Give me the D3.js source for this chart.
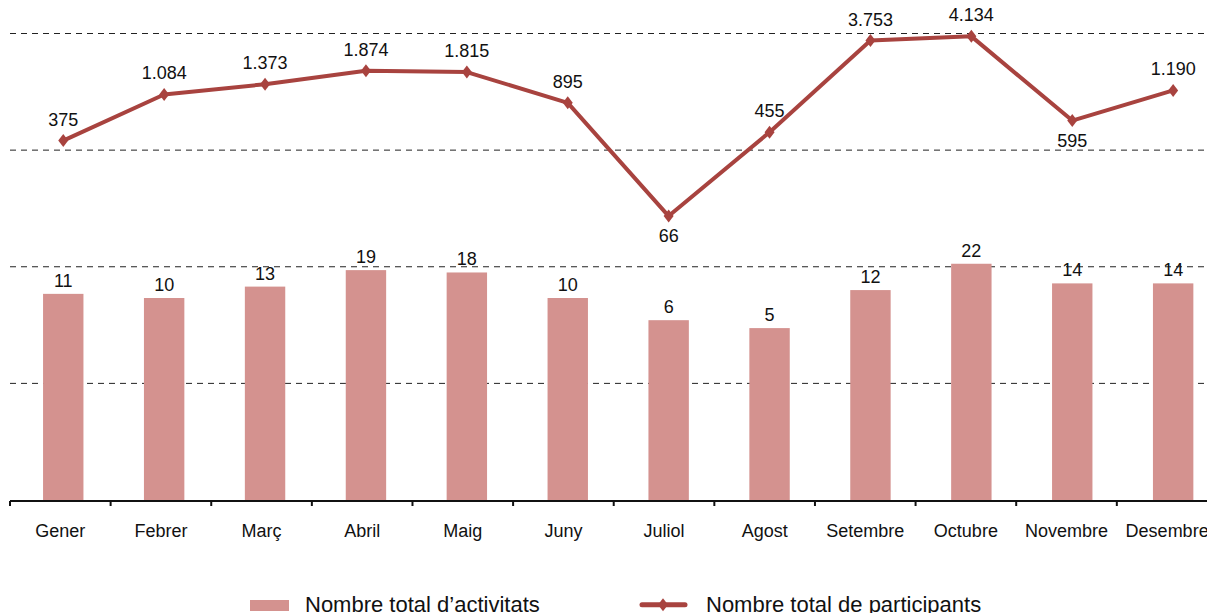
<!DOCTYPE html>
<html>
<head>
<meta charset="utf-8">
<script src="https://cdn.jsdelivr.net/npm/d3@7"></script>
<style>
  html, body { margin: 0; padding: 0; background: #fff; overflow: hidden; }
  svg { display: block; font-family: "Liberation Sans", Arial, Helvetica, sans-serif; }
</style>
</head>
<body>
<svg id="chart" width="1207" height="613"></svg>
<script>
const months = ["Gener","Febrer","Març","Abril","Maig","Juny","Juliol","Agost","Setembre","Octubre","Novembre","Desembre"];
const activitats = [11,10,13,19,18,10,6,5,12,22,14,14];
const participants = [375,1084,1373,1874,1815,895,66,455,3753,4134,595,1190];
const participantLabels = ["375","1.084","1.373","1.874","1.815","895","66","455","3.753","4.134","595","1.190"];
const labelBelow = [false,false,false,false,false,false,true,false,false,false,true,false];
const gridTicks = [0,1,2,3,4];
const legendNames = ["Nombre total d’activitats","Nombre total de participants"];

const barColor = "#d4928f";
const lineColor = "#a8433f";

const svg = d3.select("#chart");

// scales
const xAxisScale = d3.scaleBand().domain(months).range([10, 10 + 12 * 100.62]);
const xMark = d3.scaleBand().domain(months).range([12.8, 12.8 + 12 * 100.9]);
const y = d3.scaleLog().domain([0.0955, 4365]).range([500, 34]);
const yGrid = d3.scaleLinear().domain([0, 4]).range([500, 33.5]);

// gridlines
svg.append("g").selectAll("line")
  .data(gridTicks.filter(t => t > 0))
  .join("line")
  .attr("x1", 10).attr("x2", 1230)
  .attr("y1", d => yGrid(d)).attr("y2", d => yGrid(d))
  .attr("stroke", "#222").attr("stroke-width", 1)
  .attr("stroke-dasharray", "6,5");

// bars
const barW = 40.4;
const cx = m => xMark(m) + xMark.bandwidth() / 2;
svg.append("g").selectAll("rect")
  .data(months)
  .join("rect")
  .attr("x", (m) => cx(m) - barW / 2)
  .attr("width", barW)
  .attr("y", (m, i) => y(activitats[i]))
  .attr("height", (m, i) => 500 - y(activitats[i]))
  .attr("fill", barColor);

// bar labels
svg.append("g").selectAll("text")
  .data(months)
  .join("text")
  .attr("x", m => cx(m))
  .attr("y", (m, i) => y(activitats[i]) - 7)
  .attr("text-anchor", "middle")
  .attr("font-size", 18)
  .attr("fill", "#111")
  .text((m, i) => activitats[i]);

// x axis
const axis = d3.axisBottom(xAxisScale).tickSize(0).tickPadding(0);
const axG = svg.append("g").attr("transform", "translate(0,501)");
axG.append("line").attr("x1", 10).attr("x2", 1230).attr("y1", 0).attr("y2", 0)
  .attr("stroke", "#111").attr("stroke-width", 2);
const bounds = months.map(m => xAxisScale(m));
axG.selectAll("line.tk").data(bounds).join("line").attr("class", "tk")
  .attr("x1", d => d).attr("x2", d => d).attr("y1", 0).attr("y2", 5)
  .attr("stroke", "#111").attr("stroke-width", 2);
axG.selectAll("text.lab").data(months).join("text").attr("class", "lab")
  .attr("x", m => xAxisScale(m) + xAxisScale.bandwidth() / 2)
  .attr("y", 36)
  .attr("text-anchor", "middle")
  .attr("font-size", 18)
  .attr("fill", "#111")
  .text(m => m);

// line
const line = d3.line().x((d, i) => cx(months[i])).y(d => y(d));
svg.append("path")
  .datum(participants)
  .attr("d", line)
  .attr("fill", "none")
  .attr("stroke", lineColor)
  .attr("stroke-width", 4)
  .attr("stroke-linejoin", "round");

const diamond = "M0,-6.5L5,0L0,6.5L-5,0Z";
svg.append("g").selectAll("path")
  .data(participants)
  .join("path")
  .attr("d", diamond)
  .attr("transform", (d, i) => `translate(${cx(months[i])},${y(d)})`)
  .attr("fill", lineColor);

svg.append("g").selectAll("text")
  .data(participants)
  .join("text")
  .attr("x", (d, i) => cx(months[i]))
  .attr("y", (d, i) => labelBelow[i] ? y(d) + 26 : y(d) - 15)
  .attr("text-anchor", "middle")
  .attr("font-size", 18)
  .attr("fill", "#111")
  .text((d, i) => participantLabels[i]);

// legend
const lg = svg.append("g");
lg.append("rect").attr("x", 250).attr("y", 600).attr("width", 39).attr("height", 11).attr("fill", barColor);
lg.append("text").attr("x", 305).attr("y", 612).attr("font-size", 22).attr("fill", "#111").text(legendNames[0]);
lg.append("line").attr("x1", 642).attr("x2", 685).attr("y1", 604.7).attr("y2", 604.7)
  .attr("stroke", lineColor).attr("stroke-width", 5).attr("stroke-linecap", "round");
lg.append("path").attr("d", diamond).attr("transform", "translate(663,604.7)").attr("fill", lineColor);
lg.append("text").attr("x", 706).attr("y", 612).attr("font-size", 22).attr("fill", "#111").text(legendNames[1]);
</script>
</body>
</html>
